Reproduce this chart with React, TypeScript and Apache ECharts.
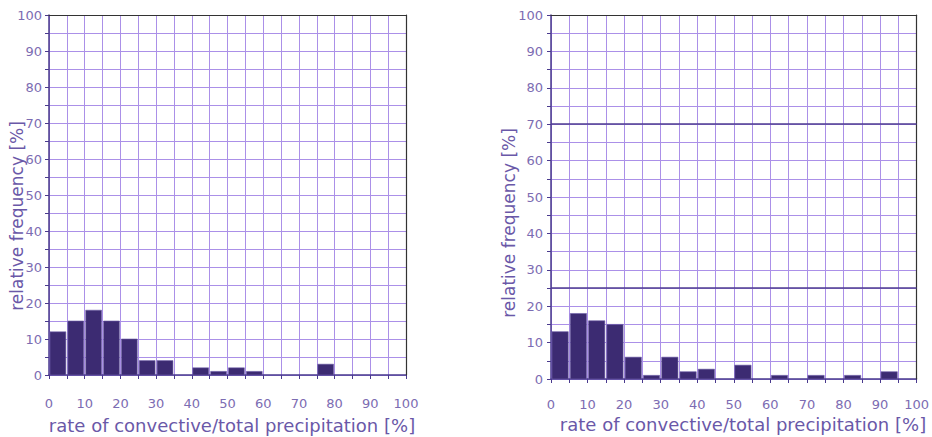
import React, { useEffect, useRef } from "react";
import * as echarts from "echarts";

// Histogram bins: start of each 5 % class of the convective/total ratio
const binStarts = [0, 5, 10, 15, 20, 25, 30, 35, 40, 45, 50, 55, 60, 65, 70, 75, 80, 85, 90, 95];
const binWidth = 5;
// Relative frequency [%] per bin, left panel
const leftFreq = [12, 15, 18, 15, 10, 4, 4, 0, 2, 1, 2, 1, 0, 0, 0, 3, 0, 0, 0, 0];
// Relative frequency [%] per bin, right panel
const rightFreq = [13, 18, 16, 15, 6, 1, 6, 2, 2.7, 0, 3.8, 0, 1, 0, 1, 0, 1, 0, 2, 0];
// Highlighted reference levels in the right panel
const rightRefLines = [25, 70];

const xTitle = "rate of convective/total precipitation [%]";
const yTitle = "relative frequency [%]";

const FONT = "DejaVu Sans";
const LABEL_COLOR = "#7c6cb2";
const TITLE_COLOR = "#6a58a8";
const GRID_COLOR = "#ab90e8";
const AXIS_COLOR = "#4a3a8e";
const FRAME_COLOR = "#333333";
const BAR_FILL = "#3c2b72";
const BAR_EDGE = "#6b5ca8";

function barData(values: number[]) {
  return binStarts.map((s, i) => [s, values[i]]);
}

function renderBar(params: any, api: any) {
  const x0 = api.value(0);
  const v = api.value(1);
  if (!v) return null;
  const top = api.coord([x0, v]);
  const bottom = api.coord([x0 + binWidth, 0]);
  return {
    type: "rect",
    shape: {
      x: top[0] + 1,
      y: top[1],
      width: bottom[0] - top[0] - 2,
      height: bottom[1] - top[1],
    },
    style: { fill: BAR_FILL, stroke: BAR_EDGE, lineWidth: 0.6 },
  };
}

function valueAxis(gridIndex: number, margin: number) {
  return {
    gridIndex,
    type: "value",
    min: 0,
    max: 100,
    interval: 10,
    axisLine: { show: true, onZero: false, lineStyle: { color: AXIS_COLOR, width: 1.5 } },
    axisTick: { show: true, length: 4, lineStyle: { color: AXIS_COLOR } },
    minorTick: { show: true, splitNumber: 2, length: 4, lineStyle: { color: AXIS_COLOR } },
    axisLabel: { color: LABEL_COLOR, fontFamily: FONT, fontSize: 13, margin },
    splitLine: { show: true, lineStyle: { color: GRID_COLOR, width: 1 } },
    minorSplitLine: { show: true, lineStyle: { color: GRID_COLOR, width: 1 } },
  };
}

// Plain frame edges (top and right) drawn as label-less axes
function frameAxis(gridIndex: number, position: string) {
  return {
    gridIndex,
    position,
    type: "value",
    min: 0,
    max: 100,
    z: 4,
    axisLine: { show: true, onZero: false, lineStyle: { color: FRAME_COLOR, width: 1.2 } },
    axisTick: { show: false },
    axisLabel: { show: false },
    splitLine: { show: false },
  };
}

function titleText(text: string, x: number, y: number, rotate: boolean, size: number) {
  return {
    type: "text",
    x,
    y,
    rotation: rotate ? Math.PI / 2 : 0,
    silent: true,
    style: {
      text,
      fill: TITLE_COLOR,
      font: `${size}px "${FONT}"`,
      align: "center",
      verticalAlign: "middle",
    },
  };
}

export default function App() {
  const ref = useRef<HTMLDivElement>(null);

  useEffect(() => {
    if (!ref.current) return;
    const chart = echarts.init(ref.current, undefined, { renderer: "svg" });
    chart.setOption({
      animation: false,
      backgroundColor: "#ffffff",
      grid: [
        { left: 49, top: 15, width: 357, height: 360 },
        { left: 551, top: 15, width: 366, height: 364 },
      ],
      xAxis: [valueAxis(0, 22), valueAxis(1, 19), frameAxis(0, "top"), frameAxis(1, "top")],
      yAxis: [valueAxis(0, 7), valueAxis(1, 8), frameAxis(0, "right"), frameAxis(1, "right")],
      series: [
        {
          type: "custom",
          xAxisIndex: 0,
          yAxisIndex: 0,
          renderItem: renderBar,
          encode: { x: 0, y: 1 },
          data: barData(leftFreq),
          z: 5,
        },
        {
          type: "custom",
          xAxisIndex: 1,
          yAxisIndex: 1,
          renderItem: renderBar,
          encode: { x: 0, y: 1 },
          data: barData(rightFreq),
          z: 5,
        },
        {
          type: "line",
          xAxisIndex: 1,
          yAxisIndex: 1,
          data: [],
          z: 3,
          markLine: {
            silent: true,
            symbol: "none",
            label: { show: false },
            lineStyle: { color: "#4f3c92", width: 1.6, type: "solid" },
            data: rightRefLines.map((v) => ({ yAxis: v })),
          },
        },
      ],
      graphic: [
        titleText(yTitle, 17, 216, true, 17),
        titleText(xTitle, 232, 425, false, 18),
        titleText(yTitle, 509, 223, true, 17),
        titleText(xTitle, 743, 424, false, 18),
      ],
    });
    return () => chart.dispose();
  }, []);

  return (
    <div
      ref={ref}
      style={{ position: "fixed", left: 0, top: 0, width: 932, height: 437 }}
    />
  );
}
